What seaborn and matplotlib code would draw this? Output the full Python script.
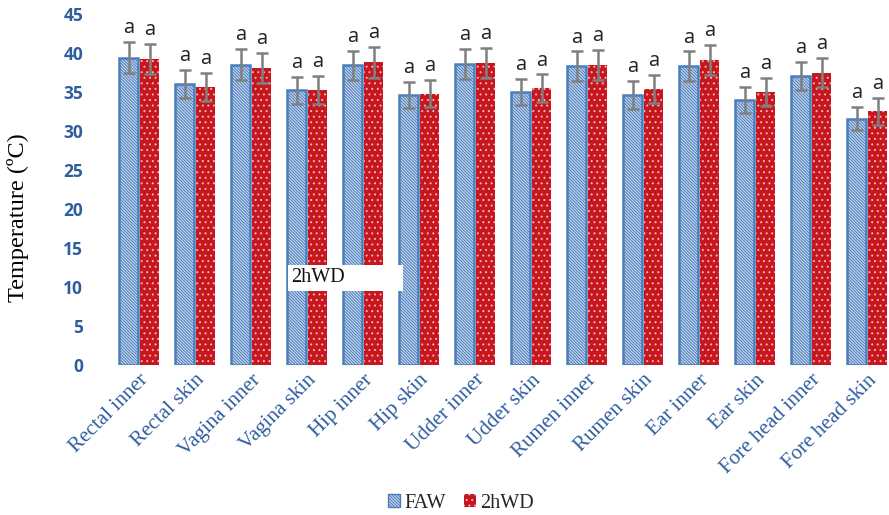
import matplotlib
matplotlib.use("Agg")
import matplotlib.pyplot as plt
import seaborn as sns
import pandas as pd
import numpy as np
from matplotlib.patches import Rectangle

sites = ["Rectal inner", "Rectal skin", "Vagina inner", "Vagina skin", "Hip inner",
         "Hip skin", "Udder inner", "Udder skin", "Rumen inner", "Rumen skin",
         "Ear inner", "Ear skin", "Fore head inner", "Fore head skin"]
groups = ["FAW", "2hWD"]
faw_mean = [39.4, 36.0, 38.5, 35.2, 38.4, 34.6, 38.6, 35.0, 38.3, 34.6, 38.3, 34.0, 37.05, 31.6]
wd_mean = [39.2, 35.7, 38.1, 35.3, 38.8, 34.8, 38.7, 35.5, 38.5, 35.4, 39.1, 35.0, 37.5, 32.5]
faw_err = [2.0, 1.8, 2.0, 1.77, 1.9, 1.7, 1.9, 1.7, 1.9, 1.77, 1.9, 1.65, 1.85, 1.5]
wd_err = [1.95, 1.8, 1.95, 1.8, 1.95, 1.75, 1.9, 1.75, 1.9, 1.77, 1.9, 1.75, 1.9, 1.7]
sig_faw = ["a"] * 14
sig_wd = ["a"] * 14
yticks = [0, 5, 10, 15, 20, 25, 30, 35, 40, 45]

df = pd.DataFrame({
    "Site": sites * 2,
    "Group": ["FAW"] * len(sites) + ["2hWD"] * len(sites),
    "Temp": faw_mean + wd_mean,
})

sns.set_style("white")
plt.rcParams['hatch.linewidth'] = 0.7

fig = plt.figure(figsize=(8.89, 5.15), dpi=100)
ax = fig.add_axes([111 / 889, 150 / 515, 784 / 889, 351 / 515])

blue_fill = "#C6D7EC"
blue_edge = "#4A7DBC"
red_fill = "#C8161E"
hatch_blue = "\\" * 11

sns.barplot(data=df, x="Site", y="Temp", hue="Group", order=sites, hue_order=groups,
            palette={"FAW": blue_fill, "2hWD": red_fill}, errorbar=None,
            width=0.75, gap=0.06, ax=ax, legend=False)

containers = ax.containers
for bar in containers[0]:
    bar.set_facecolor(blue_fill)
    bar.set_edgecolor(blue_edge)
    bar.set_hatch(hatch_blue)
    bar.set_linewidth(1.8)
for bar in containers[1]:
    bar.set_facecolor(red_fill)
    bar.set_edgecolor("#F3B8BA")
    bar.set_hatch("...")
    bar.set_linewidth(0)

for cont, means, errs, sig in [(containers[0], faw_mean, faw_err, sig_faw),
                                (containers[1], wd_mean, wd_err, sig_wd)]:
    xs = [b.get_x() + b.get_width() / 2 for b in cont]
    ax.errorbar(xs, means, yerr=errs, fmt="none", ecolor="#7F7F7F",
                elinewidth=1.8, capsize=4.5, capthick=1.8, zorder=5)
    for x, m, e, s in zip(xs, means, errs, sig):
        ax.text(x, m + e + 0.5, s, ha="center", va="bottom", fontsize=14.5,
                family="Open Sans", color="#222222")

ax.set_ylim(0, 45)
ax.set_xlim(-0.5, len(sites) - 0.5)
ax.set_yticks(yticks)
ax.set_yticklabels([str(t) for t in yticks], fontsize=12.5, fontweight="bold",
                   family="Open Sans", color="#2E5E9E")
ax.tick_params(axis="y", length=0, pad=20)
ax.tick_params(axis="x", length=0, pad=4)
ax.set_xticks(range(len(sites)))
ax.set_xticklabels(sites, rotation=45, ha="right", rotation_mode="anchor",
                   fontsize=15.2, family="Liberation Serif", color="#2E5E9E")
ax.set_xlabel("")
ax.set_ylabel("Temperature (ºC)", fontsize=17.5, family="Liberation Serif",
              color="black")
ax.yaxis.set_label_coords((29 - 111) / 784, (515 - 218 - 150) / 351)
for sp in ax.spines.values():
    sp.set_visible(False)
ax.grid(False)

# stray white label box
fig.patches.append(Rectangle((288 / 889, (515 - 291) / 515), 115 / 889, 26 / 515,
                             transform=fig.transFigure, facecolor="white",
                             edgecolor="none", zorder=10))
fig.text(291 / 889, (515 - 278) / 515, "2hWD", fontsize=14.5, family="Liberation Serif",
         color="#111111", va="center", ha="left", zorder=11)

handles = [Rectangle((0, 0), 1, 1, facecolor=blue_fill, edgecolor=blue_edge,
                     hatch=hatch_blue, linewidth=1.0),
           Rectangle((0, 0), 1, 1, facecolor=red_fill, edgecolor="#F3B8BA",
                     hatch="...", linewidth=0)]
leg = fig.legend(handles, groups, loc="center", bbox_to_anchor=(461 / 889, 12 / 515),
                 ncol=2, frameon=False, handlelength=0.6, handleheight=0.6,
                 handletextpad=0.2, columnspacing=0.9,
                 prop={"family": "Liberation Serif", "size": 14.5})

fig.savefig("out.png", dpi=100)
